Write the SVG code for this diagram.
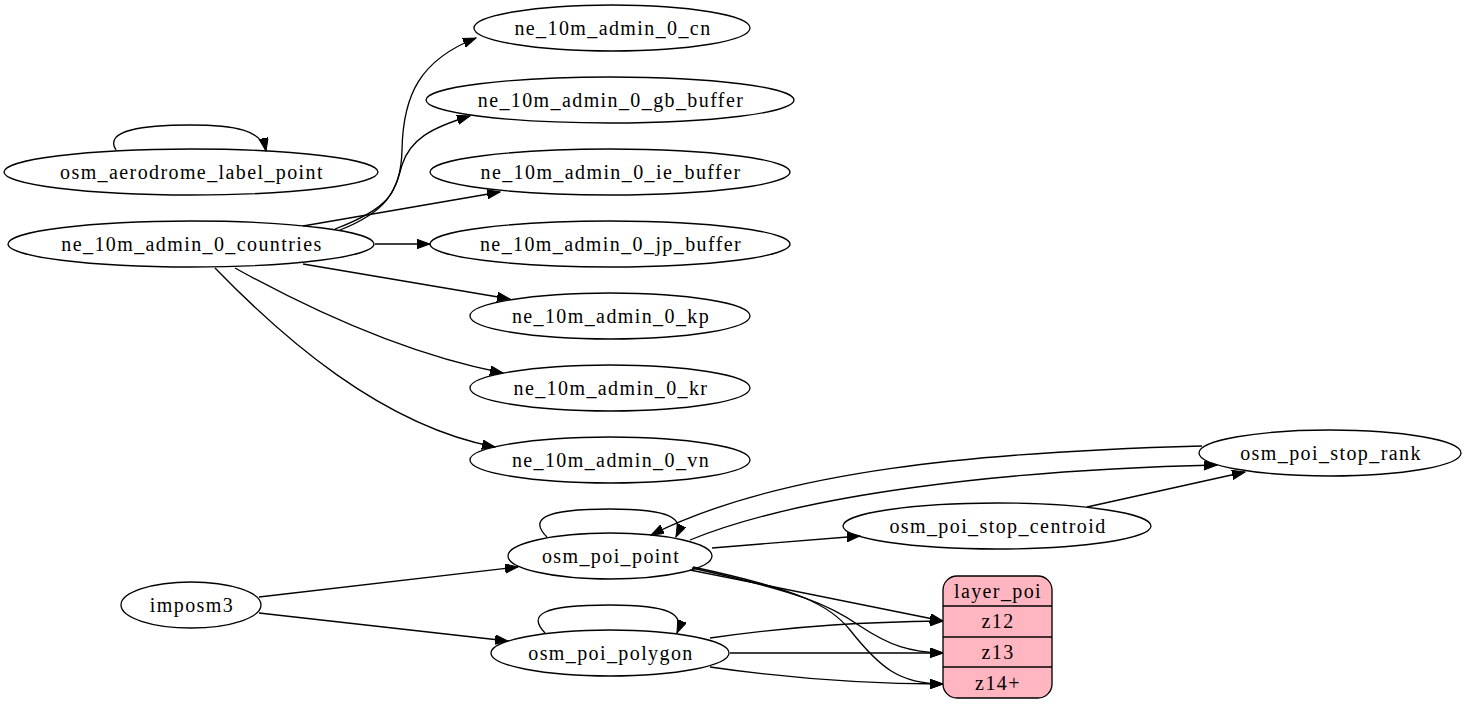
<svg xmlns="http://www.w3.org/2000/svg" width="1467" height="705" viewBox="0 0 1467 705">
  <style>
    .node ellipse { fill: none; stroke: #000; stroke-width: 1.33; }
    .node text, .rec text { font-family: "Liberation Serif", "Times New Roman", serif; font-size: 20px; letter-spacing: 1.4px; fill: #000; text-anchor: middle; }
    .edges path { fill: none; stroke: #000; stroke-width: 1.33; marker-end: url(#arrow); }
    .rec rect { fill: #ffb6c1; stroke: #000; stroke-width: 1.33; }
    .rec line { stroke: #000; stroke-width: 1.33; }
  </style>
  <defs>
    <marker id="arrow" markerUnits="userSpaceOnUse" markerWidth="14" markerHeight="10" refX="13" refY="4.7" orient="auto">
      <path d="M0,0 L13,4.7 L0,9.4 Z" fill="#000" stroke="#000" stroke-width="1"/>
    </marker>
  </defs>
  <rect width="1467" height="705" fill="#fff"/>

  <!-- connectors -->
  <g class="edges" id="edges">
    <path d="M116,150 C103,130 145,125 190,125 C235,125 262,130 266,151"/>
    <path d="M335,229 C385,210 401,195 402,150 C403,95 420,60 476,38"/>
    <path d="M340,230 C390,210 395,190 402,165 C410,140 430,128 470,116"/>
    <path d="M303,226 L500,192"/>
    <path d="M375,244 L430,244"/>
    <path d="M303,264 L510,299"/>
    <path d="M235,268 C320,315 410,355 503,373"/>
    <path d="M215,268 C280,335 380,425 495,447"/>
    <path d="M1202,446 C980,452 780,470 651,535"/>
    <path d="M690,540 C800,495 1000,470 1217,465"/>
    <path d="M1087,507 L1245,472"/>
    <path d="M712,548 L860,536"/>
    <path d="M259,597 L518,567"/>
    <path d="M259,613 L508,641"/>
    <path d="M547,537 C530,520 540,509 610,509 C670,509 685,518 676,537"/>
    <path d="M545,633 C528,615 540,605 610,605 C670,605 685,614 677,633"/>
    <path d="M690,570 L943,621"/>
    <path d="M692,568 C800,592 830,605 860,626 C890,646 910,652 943,653"/>
    <path d="M693,567 C800,590 830,605 850,630 C880,668 900,684 943,684"/>
    <path d="M710,638 C800,625 870,622 943,621"/>
    <path d="M730,653 L943,653"/>
    <path d="M710,667 C800,680 870,684 943,684"/>
  </g>

  <g class="node" id="ne_10m_admin_0_cn"><ellipse cx="612" cy="28" rx="138" ry="23"/><text x="613" y="35">ne_10m_admin_0_cn</text></g>
  <g class="node" id="ne_10m_admin_0_gb_buffer"><ellipse cx="610" cy="100" rx="184" ry="23"/><text x="611" y="107">ne_10m_admin_0_gb_buffer</text></g>
  <g class="node" id="osm_aerodrome_label_point"><ellipse cx="191" cy="172" rx="187" ry="23"/><text x="192" y="179">osm_aerodrome_label_point</text></g>
  <g class="node" id="ne_10m_admin_0_ie_buffer"><ellipse cx="610" cy="172" rx="180" ry="23"/><text x="611" y="179">ne_10m_admin_0_ie_buffer</text></g>
  <g class="node" id="ne_10m_admin_0_countries"><ellipse cx="191" cy="244" rx="183" ry="23"/><text x="192" y="251">ne_10m_admin_0_countries</text></g>
  <g class="node" id="ne_10m_admin_0_jp_buffer"><ellipse cx="610" cy="244" rx="180" ry="23"/><text x="611" y="251">ne_10m_admin_0_jp_buffer</text></g>
  <g class="node" id="ne_10m_admin_0_kp"><ellipse cx="610" cy="316" rx="140" ry="23"/><text x="611" y="323">ne_10m_admin_0_kp</text></g>
  <g class="node" id="ne_10m_admin_0_kr"><ellipse cx="610" cy="388" rx="140" ry="23"/><text x="611" y="395">ne_10m_admin_0_kr</text></g>
  <g class="node" id="ne_10m_admin_0_vn"><ellipse cx="610" cy="460" rx="140" ry="23"/><text x="611" y="467">ne_10m_admin_0_vn</text></g>
  <g class="node" id="osm_poi_stop_rank"><ellipse cx="1330" cy="453" rx="131" ry="23"/><text x="1331" y="460">osm_poi_stop_rank</text></g>
  <g class="node" id="osm_poi_stop_centroid"><ellipse cx="997" cy="526" rx="154" ry="23"/><text x="998" y="533">osm_poi_stop_centroid</text></g>
  <g class="node" id="osm_poi_point"><ellipse cx="610" cy="556" rx="102" ry="23"/><text x="611" y="563">osm_poi_point</text></g>
  <g class="node" id="imposm3"><ellipse cx="191" cy="605" rx="70" ry="23"/><text x="192" y="612">imposm3</text></g>
  <g class="node" id="osm_poi_polygon"><ellipse cx="610" cy="653" rx="119" ry="23"/><text x="611" y="660">osm_poi_polygon</text></g>

  <!-- record node with its port rows -->
  <g class="rec" id="layer_poi">
    <rect x="943" y="576" width="109" height="122" rx="14" ry="14"/>
    <line x1="943" y1="606" x2="1052" y2="606"/>
    <line x1="943" y1="637" x2="1052" y2="637"/>
    <line x1="943" y1="667" x2="1052" y2="667"/>
    <text x="998" y="598">layer_poi</text>
    <text x="998" y="628">z12</text>
    <text x="998" y="659">z13</text>
    <text x="998" y="690">z14+</text>
  </g>
</svg>
